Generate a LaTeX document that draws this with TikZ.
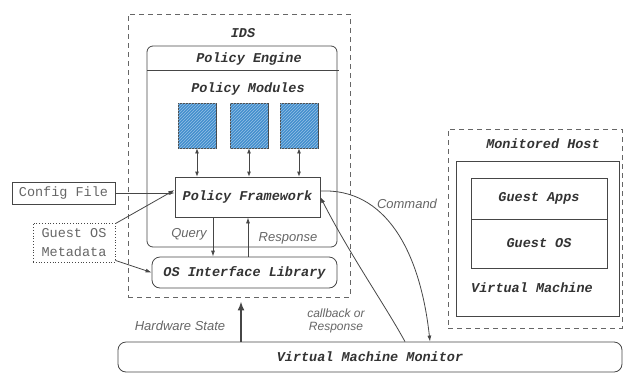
\documentclass[tikz,border=0pt]{standalone}
\usepackage{fontspec}
\setmainfont{Liberation Sans}
\setmonofont{Liberation Mono}
\usetikzlibrary{arrows.meta,patterns}

\definecolor{modblue}{RGB}{66,142,206}
\definecolor{inkgray}{RGB}{70,70,70}

\begin{document}
\begin{tikzpicture}[x=1pt,y=-1pt,
                    line/.style = {draw=inkgray, line width=0.8pt},
                    arrow/.style = {line, -{Latex[length=6pt,width=4pt]}},
                    twoway/.style = {line, {Latex[length=5pt,width=4pt]}-{Latex[length=5pt,width=4pt]}},
                    title/.style = {font=\ttfamily\bfseries\itshape\fontsize{13.5}{16}\selectfont, text=black!80},
                    plain/.style = {font=\ttfamily\fontsize{13.5}{19}\selectfont, text=black!60, align=left},
                    label/.style = {font=\itshape\fontsize{13}{14}\selectfont, text=black!60, align=center},
                    box/.style = {line, inner sep=0pt, title},
                    module/.style = {line, fill=modblue, minimum width=38pt, minimum height=45pt,
                                     postaction={pattern=north east lines, pattern color=modblue!55!white}},
                    dashbox/.style = {draw=black!60, line width=0.9pt, dash pattern=on 5pt off 4pt}]
                    \useasboundingbox (0,0) rectangle (624,373);

                    \node[dashbox, minimum width=222pt, minimum height=283pt] (ids) at (239,155.5) {};
                    \node[title] (idslabel) at (243,33) {IDS};
                    \node[box, rounded corners=6pt, minimum width=190pt, minimum height=201pt] (engine) at (242,146.5) {};
                    \draw[line] (147,70) coordinate (rowl) -- (339,70) coordinate (rowr);
                    \node[title] (enginelabel) at (249,59) {Policy Engine};
                    \node[title] (modlabel) at (248,89) {Policy Modules};
                    \node[module] (mod1) at (197,125.5) {};
                    \node[module] (mod2) at (249,125.5) {};
                    \node[module] (mod3) at (299,125.5) {};
                    \node[box, minimum width=145pt, minimum height=40pt] (pf) at (247.5,197) {Policy Framework};
                    \draw[twoway] (mod1.south) -- (mod1.south |- pf.north);
                    \draw[twoway] (mod2.south) -- (mod2.south |- pf.north);
                    \draw[twoway] (mod3.south) -- (mod3.south |- pf.north);

                    \node[box, rounded corners=8pt, minimum width=185pt, minimum height=31pt] (osil) at (244.5,272.5) {OS Interface Library};
                    \coordinate (q) at (213,0);
                    \coordinate (r) at (248,0);
                    \draw[arrow] (q |- pf.south) -- (q |- osil.north);
                    \draw[arrow] (r |- osil.north) -- (r |- pf.south);
                    \node[label] (query) at (189,234) {Query};
                    \node[label] (response) at (288,238) {Response};

                    \node[line, plain, inner sep=0pt, minimum width=103pt, minimum height=22pt] (cfg) at (63.5,193) {Config File};
                    \node[draw=inkgray, line width=0.8pt, dotted, plain, inner sep=0pt, minimum width=82pt, minimum height=39pt] (meta) at (74,242.5) {Guest OS\\Metadata};
                    \draw[arrow] (cfg.east) -- (cfg.east -| pf.west);
                    \draw[arrow] ([yshift=-1pt]meta.north east) -- ([yshift=7pt]pf.west);
                    \draw[arrow] ([yshift=2pt]meta.south east) -- (osil.west);

                    \node[box, rounded corners=8pt, minimum width=504pt, minimum height=30pt] (vmm) at (370,357) {Virtual Machine Monitor};
                    \coordinate (hw) at (241,0);
                    \draw[draw=inkgray, line width=1.6pt, -{Latex[length=9pt,width=7pt]}] (hw |- vmm.north) -- ([yshift=-4pt]hw |- ids.south);
                    \node[label] (hwlabel) at (180,326) {Hardware State};

                    \node[dashbox, minimum width=174pt, minimum height=199pt] (host) at (535,228.5) {};
                    \node[title] (hostlabel) at (543,144) {Monitored Host};
                    \node[box, minimum width=163pt, minimum height=155pt] (vm) at (537.5,238.5) {};
                    \node[title] (vmlabel) at (532,288) {Virtual Machine};
                    \node[box, minimum width=136pt, minimum height=41pt] (apps) at (539,198.5) {Guest Apps};
                    \node[box, minimum width=136pt, minimum height=49pt] (gos) at (539,243.5) {Guest OS};

                    \coordinate (cmdend) at (430,0);
                    \coordinate (cbstart) at (405,0);
                    \draw[arrow] ([yshift=6pt]pf.east) .. controls (385,188) and (420,250) .. (cmdend |- vmm.north);
                    \node[label] (cmdlabel) at (407,204) {Command};
                    \draw[arrow] (cbstart |- vmm.north) .. controls (385,305) and (350,255) .. (pf.east);
                    \node[label, font=\itshape\fontsize{12}{13}\selectfont] (cblabel) at (336,321) {callback or\\Response};
\end{tikzpicture}
\end{document}
